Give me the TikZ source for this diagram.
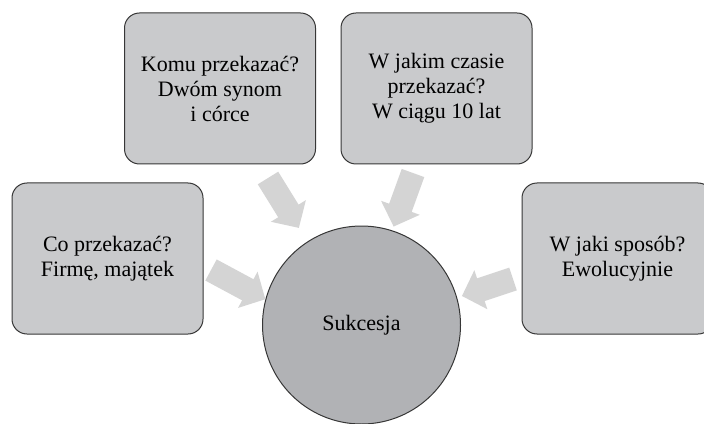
\documentclass[tikz,border=0pt]{standalone}
\usepackage{fontspec}
\setmainfont{Liberation Serif}
\usepackage{xcolor}
\usepackage{tikz}
\usetikzlibrary{arrows.meta}

\definecolor{boxgray}{RGB}{201,202,204}
\definecolor{ringgray}{RGB}{177,178,181}
\definecolor{arrgray}{RGB}{212,212,212}
\definecolor{edgegray}{RGB}{55,55,55}

\begin{document}
\begin{tikzpicture}[
    x=0.5pt, y=0.5pt,
    question/.style={
        draw=edgegray,
        line width=0.5pt,
        fill=boxgray,
        rounded corners=7.5pt,
        minimum width=95.5pt,
        minimum height=75.5pt,
        align=center,
        font=\fontsize{11}{12.5}\selectfont
    },
    hub/.style={
        circle,
        draw=edgegray,
        line width=0.5pt,
        fill=ringgray,
        minimum size=99pt,
        font=\fontsize{11}{12.5}\selectfont
    },
    pointer/.style={
        draw=arrgray,
        line width=12pt,
        -{Triangle[width=20pt,length=10pt,fill=arrgray]}
    }
]

% frame
\useasboundingbox (0,0) rectangle (704,423);

% Central circle
\node[hub] (suk) at (361.5,98) {Sukcesja};

% ---- Boxes ----

% Co przekazac
\node[question] (co) at (107.5,164.5)
{Co przekazać?\\Firmę, majątek};

% Komu przekazac
\node[question] (komu) at (220,334.5)
{Komu przekazać?\\Dwóm synom\\i córce};

% W jakim czasie
\node[question] (czas) at (436.5,334.5)
{W jakim czasie\\przekazać?\\W ciągu 10 lat};

% W jaki sposob
\node[question] (sposob) at (617.5,164.5)
{W jaki sposób?\\Ewolucyjnie};

% ---- Arrows ----
\coordinate (coend) at (211,153);
\coordinate (komuend) at (268,245);
\coordinate (czasend) at (413,250);
\coordinate (sposobend) at (513,144);

\draw[pointer] (coend) -- (suk.165);
\draw[pointer, shorten >=8pt] (komuend) -- (suk.123);
\draw[pointer, shorten >=2pt] (czasend) -- (suk.72);
\draw[pointer, shorten >=2.5pt] (sposobend) -- (suk.16);

\end{tikzpicture}
\end{document}
